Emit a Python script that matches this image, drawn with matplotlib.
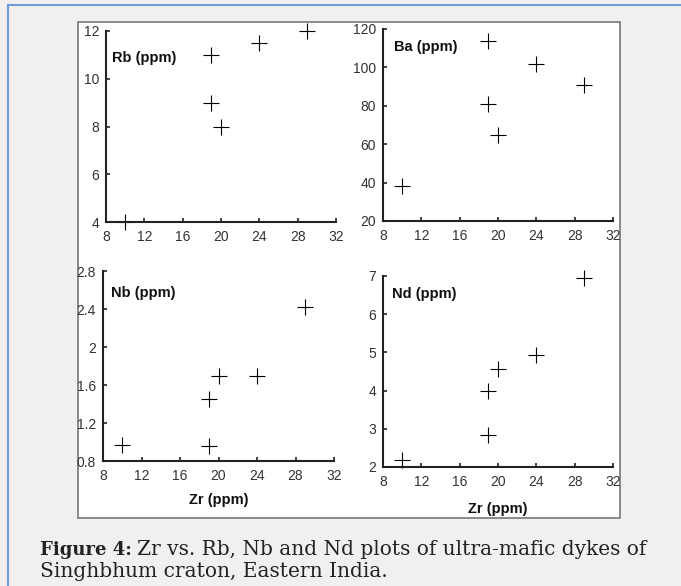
import matplotlib
matplotlib.use("Agg")
import matplotlib.pyplot as plt
from matplotlib.patches import Rectangle
from matplotlib.lines import Line2D

# Zr (ppm) on x for every panel
zr = [10, 19, 19, 20, 24, 29]
rb = [4, 11, 9, 8, 11.5, 12]
ba = [38, 114, 81, 65, 102, 91]
nb = [0.97, 1.45, 0.96, 1.7, 1.69, 2.42]
nd = [2.18, 4.0, 2.85, 4.57, 4.92, 6.95]

x_ticks = [8, 12, 16, 20, 24, 28, 32]
rb_ticks = [4, 6, 8, 10, 12]
ba_ticks = [20, 40, 60, 80, 100, 120]
nb_ticks = [0.8, 1.2, 1.6, 2.0, 2.4, 2.8]
nb_labels = ["0.8", "1.2", "1.6", "2", "2.4", "2.8"]
nd_ticks = [2, 3, 4, 5, 6, 7]

caption_bold = "Figure 4:"
caption_1 = "Zr vs. Rb, Nb and Nd plots of ultra-mafic dykes of"
caption_2 = "Singhbhum craton, Eastern India."

plt.rcParams["font.family"] = ["Liberation Sans", "DejaVu Sans"]

W, H = 681, 586
fig = plt.figure(figsize=(W / 100, H / 100), dpi=100)
fig.patch.set_facecolor("#f1f0ee")

# blue page frame lines
fig.add_artist(Line2D([8 / W, 1], [1 - 5 / H, 1 - 5 / H], color="#6f9bd8", lw=1.5, zorder=-5))
fig.add_artist(Line2D([8 / W, 8 / W], [0, 1 - 5 / H], color="#6f9bd8", lw=1.5, zorder=-5))

# white image box, behind the axes
fig.add_artist(Rectangle((78 / W, 1 - 518 / H), (620 - 78) / W, (518 - 22) / H,
                         facecolor="white", edgecolor="#777777", lw=1.2, zorder=-10))


def px_axes(x0, x1, y0, y1):
    return fig.add_axes([x0 / W, 1 - y1 / H, (x1 - x0) / W, (y1 - y0) / H])


def panel(ax, y, ylim, yticks, ylabels, name, lx, ly, labelpad=None):
    ax.set_facecolor("none")
    ax.plot(zr, y, "+", color="black", markersize=12, markeredgewidth=0.8, clip_on=False)
    ax.set_xlim(8, 32)
    ax.set_ylim(*ylim)
    ax.set_xticks(x_ticks)
    ax.set_yticks(yticks)
    ax.set_yticklabels(ylabels)
    for s in ["top", "right"]:
        ax.spines[s].set_visible(False)
    for s in ["left", "bottom"]:
        ax.spines[s].set_linewidth(1.5)
        ax.spines[s].set_color("#222222")
    ax.tick_params(direction="in", length=3, width=1.2, color="#222222",
                   labelsize=10, labelcolor="#333333")
    ax.tick_params(axis="x", pad=6)
    ax.tick_params(axis="y", pad=5)
    ax.text(lx, ly, name, transform=ax.transAxes, fontsize=10.5,
            fontweight="bold", va="center", ha="left", color="#111111")
    if labelpad is not None:
        ax.set_xlabel("Zr (ppm)", fontsize=10.5, fontweight="bold",
                      color="#111111", labelpad=labelpad)


ax1 = px_axes(106, 336, 31, 222)
panel(ax1, rb, (4, 12), rb_ticks, [str(t) for t in rb_ticks], "Rb (ppm)", 0.026, 0.86)

ax2 = px_axes(383, 613, 29, 221)
panel(ax2, ba, (20, 120), ba_ticks, [str(t) for t in ba_ticks], "Ba (ppm)", 0.048, 0.906)

ax3 = px_axes(103, 334, 271, 461)
panel(ax3, nb, (0.8, 2.8), nb_ticks, nb_labels, "Nb (ppm)", 0.035, 0.884, labelpad=7)

ax4 = px_axes(383, 613, 276, 467)
panel(ax4, nd, (2, 7), nd_ticks, [str(t) for t in nd_ticks], "Nd (ppm)", 0.039, 0.906, labelpad=9)

# caption
t0 = fig.text(40 / W, 1 - 555 / H, caption_bold, fontsize=13, fontweight="bold",
              family="DejaVu Serif", color="#222222", va="baseline")
fig.canvas.draw()
bb = t0.get_window_extent()
fig.text((bb.x1 + 5) / W, 1 - 555 / H, caption_1, fontsize=14.5,
         family="DejaVu Serif", color="#222222", va="baseline")
fig.text(40 / W, 1 - 577 / H, caption_2, fontsize=14.5,
         family="DejaVu Serif", color="#222222", va="baseline")

fig.savefig("out.png", dpi=100, facecolor=fig.get_facecolor())
